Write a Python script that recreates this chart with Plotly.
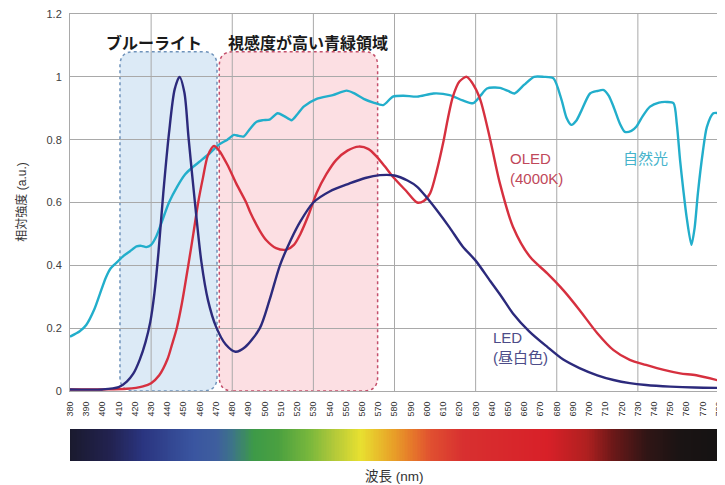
import numpy as np
import plotly.graph_objects as go

# ---------------- data ----------------
LED_NM = [380, 400, 410, 415, 419, 423, 426.5, 429.5, 432, 434.5, 437.5, 441, 444.5, 447.5, 450.5,
          453, 457, 461, 465, 470, 476, 482, 488, 497, 503, 509.4, 516, 522, 530, 540, 552,
          562, 571, 580, 588, 594, 600, 606, 614, 622, 630, 639, 646, 653, 663, 674, 684, 694,
          705, 715, 725, 735, 750, 765, 780]
LED_VAL = [0.005, 0.005, 0.012, 0.03, 0.055, 0.10, 0.155, 0.22, 0.31, 0.44, 0.63, 0.82, 0.96, 1.0,
           0.95, 0.81, 0.60, 0.41, 0.29, 0.205, 0.148, 0.125, 0.14, 0.20, 0.29, 0.40, 0.48, 0.54,
           0.60, 0.635, 0.66, 0.678, 0.687, 0.686, 0.67, 0.65, 0.615, 0.576, 0.52, 0.46, 0.415,
           0.35, 0.30, 0.247, 0.19, 0.141, 0.10, 0.073, 0.05, 0.035, 0.025, 0.019, 0.014, 0.011,
           0.01]

OLED_NM = [380, 400, 415, 425, 430, 435, 440, 443, 445.8, 449, 452.9, 456, 459, 462, 465, 468.8,
           472, 477, 482.5, 488.6, 491, 497, 501, 507, 513.5, 518, 522, 527, 532, 538, 544, 551,
           558, 564, 569, 574, 579, 587.5, 594, 598, 602, 606, 610, 613, 616, 620, 624.5, 628,
           632.7, 639, 645, 653, 663.5, 674, 684, 694, 705, 715, 725, 735, 746, 756, 766, 780]
OLED_VAL = [0.005, 0.005, 0.007, 0.015, 0.025, 0.05, 0.10, 0.15, 0.20, 0.28, 0.40, 0.50, 0.60,
            0.68, 0.75, 0.78, 0.765, 0.72, 0.66, 0.60, 0.57, 0.51, 0.48, 0.455, 0.45, 0.465, 0.50,
            0.56, 0.63, 0.69, 0.735, 0.765, 0.778, 0.77, 0.746, 0.715, 0.682, 0.635, 0.60, 0.605,
            0.63, 0.70, 0.79, 0.87, 0.937, 0.985, 1.0, 0.98, 0.93, 0.80, 0.66, 0.523, 0.427, 0.375,
            0.321, 0.258, 0.184, 0.13, 0.099, 0.083, 0.067, 0.056, 0.05, 0.033]

SUN_NM = [380, 386, 390, 395, 398.5, 402, 405, 409, 413, 417, 421, 424, 427, 430, 433, 436, 441,
          446, 451, 456, 461, 466, 472, 477, 481, 484, 487, 491, 495, 499, 503, 508, 512, 516.6,
          520, 524, 532, 542, 550.5, 555, 561, 567, 573, 579, 585.5, 594, 604, 614, 622, 628.6,
          633, 637, 645, 650, 654, 660, 666, 672, 678, 683, 686, 689, 692, 695, 700.5, 705, 709,
          712, 715, 719, 722, 726, 729, 733, 737.5, 743, 748, 752, 754, 756, 758, 760, 763, 765,
          767, 770, 772.5, 776.5, 780]
SUN_VAL = [0.173, 0.19, 0.21, 0.26, 0.31, 0.36, 0.39, 0.41, 0.43, 0.445, 0.46, 0.462, 0.458, 0.465,
           0.49, 0.53, 0.60, 0.65, 0.69, 0.714, 0.735, 0.756, 0.785, 0.80, 0.815, 0.812, 0.81,
           0.835, 0.857, 0.862, 0.864, 0.884, 0.875, 0.862, 0.88, 0.905, 0.93, 0.942, 0.956,
           0.948, 0.93, 0.918, 0.91, 0.937, 0.94, 0.937, 0.947, 0.942, 0.925, 0.916, 0.94, 0.963,
           0.965, 0.955, 0.947, 0.975, 1.0, 1.0, 0.995, 0.926, 0.87, 0.847, 0.86, 0.89, 0.947,
           0.955, 0.958, 0.94, 0.905, 0.85, 0.825, 0.828, 0.841, 0.875, 0.905, 0.918, 0.92, 0.916,
           0.85, 0.735, 0.64, 0.555, 0.465, 0.52, 0.63, 0.76, 0.84, 0.884, 0.884]

X_TICKS = list(range(380, 781, 10))
GRID_NM = [430, 480, 530, 580, 630, 680, 730]
Y_TICKS = [0, 0.2, 0.4, 0.6, 0.8, 1.0, 1.2]
Y_TICK_TEXT = ["0", "0.2", "0.4", "0.6", "0.8", "1", "1.2"]

SPECTRUM_NM = [380, 405, 425, 456, 470, 480, 493, 508, 528, 542, 559, 579, 590, 602, 622,
               674, 698, 715, 735, 756, 780]
SPECTRUM_COLORS = ["#1a1a2e", "#222250", "#2a3580", "#3a55a0", "#3e5e9e", "#3d7488", "#3d9a48",
                   "#4aa040", "#7ab83c", "#b0c83a", "#e8e030", "#e8a028", "#e67a2a", "#e05030",
                   "#d83030", "#d82028", "#b02020", "#6a1818", "#301515", "#1a1414", "#151212"]

BLUE_REGION = (410.8, 470.6)
GREEN_REGION = (472.0, 569.6)
REGION_TOP = 1.08

FONT_JP = "Noto Sans CJK JP"
FONT_MIX = "Liberation Sans, Noto Sans CJK JP"


def rounded_rect(x0, x1, y0, y1, rx, ry):
    return (f"M {x0+rx},{y0} L {x1-rx},{y0} Q {x1},{y0} {x1},{y0+ry} "
            f"L {x1},{y1-ry} Q {x1},{y1} {x1-rx},{y1} L {x0+rx},{y1} "
            f"Q {x0},{y1} {x0},{y1-ry} L {x0},{y0+ry} Q {x0},{y0} {x0+rx},{y0} Z")


fig = go.Figure()

line_kw = dict(mode="lines", line_shape="spline", showlegend=False, hoverinfo="skip")
fig.add_trace(go.Scatter(x=SUN_NM, y=SUN_VAL, line=dict(color="#22aecb", width=2.4, smoothing=0.7), **line_kw))
fig.add_trace(go.Scatter(x=OLED_NM, y=OLED_VAL, line=dict(color="#d6303f", width=2.4, smoothing=0.8), **line_kw))
fig.add_trace(go.Scatter(x=LED_NM, y=LED_VAL, line=dict(color="#2c2a7c", width=2.4, smoothing=0.8), **line_kw))

# spectrum bar
bar_x = np.arange(380, 781, 1)
scale = [[(nm - 380) / 400, c] for nm, c in zip(SPECTRUM_NM, SPECTRUM_COLORS)]
fig.add_trace(go.Heatmap(x=bar_x, y=[0], z=[bar_x], colorscale=scale, zmin=380, zmax=780,
                         showscale=False, hoverinfo="skip", xaxis="x2", yaxis="y2"))

shapes = []
shapes.append(dict(type="path", xref="x", yref="y", layer="below",
                   path=rounded_rect(BLUE_REGION[0], BLUE_REGION[1], 0, REGION_TOP, 8.5, 0.045),
                   fillcolor="#dceaf6", line=dict(color="#6f93bb", width=1.5, dash="dot")))
shapes.append(dict(type="path", xref="x", yref="y", layer="below",
                   path=rounded_rect(GREEN_REGION[0], GREEN_REGION[1], 0, REGION_TOP, 8.5, 0.045),
                   fillcolor="#fcdfe3", line=dict(color="#c4506c", width=1.5, dash="dot")))
for g in GRID_NM:
    shapes.append(dict(type="line", xref="x", yref="y", x0=g, x1=g, y0=0, y1=1.2,
                       layer="below", line=dict(color="#a9a9a9", width=1)))

annotations = [
    dict(text="<b>ブルーライト</b>", x=431.8, y=1.112, xref="x", yref="y", showarrow=False,
         font=dict(family=FONT_JP, size=16, color="#1a1a1a")),
    dict(text="<b>視感度が高い青緑領域</b>", x=526.7, y=1.112, xref="x", yref="y", showarrow=False,
         font=dict(family=FONT_JP, size=16, color="#1a1a1a")),
    dict(text="OLED<br>(4000K)", x=650, y=0.708, xref="x", yref="y", showarrow=False,
         xanchor="left", align="left", font=dict(family=FONT_MIX, size=15, color="#c0485a")),
    dict(text="自然光", x=734.4, y=0.742, xref="x", yref="y", showarrow=False,
         font=dict(family=FONT_JP, size=15, color="#45b3cb")),
    dict(text="LED<br>(昼白色)", x=639.3, y=0.137, xref="x", yref="y", showarrow=False,
         xanchor="left", align="left", font=dict(family=FONT_MIX, size=15, color="#4c4c88")),
    dict(text="波長 (nm)", x=0.5, y=-0.034, xref="paper", yref="paper", showarrow=False,
         yanchor="middle", font=dict(family=FONT_MIX, size=13.5, color="#333333")),
    dict(text="相対強度 (a.u.)", x=-0.088, y=0.58, xref="paper", yref="paper", showarrow=False,
         textangle=-90, font=dict(family=FONT_MIX, size=12, color="#333333")),
]

# the page body adds an 8px margin, so the figure is 8px smaller than the window
fig.update_layout(
    width=717, height=477,
    margin=dict(l=62, r=6, t=6, b=24),
    paper_bgcolor="white", plot_bgcolor="white",
    showlegend=False,
    shapes=shapes, annotations=annotations,
    xaxis=dict(range=[380, 780], tickvals=X_TICKS, ticktext=[str(t) for t in X_TICKS],
               tickangle=-90, tickfont=dict(family="Liberation Sans", size=9, color="#333333"),
               ticks="outside", ticklen=6, tickcolor="rgba(0,0,0,0)", automargin=False,
               ticklabeloverflow="allow",
               showgrid=False, zeroline=False, showline=True, linecolor="#a9a9a9", linewidth=1,
               mirror=True, anchor="y", fixedrange=True),
    yaxis=dict(range=[0, 1.2], domain=[0.1566, 1], tickvals=Y_TICKS, ticktext=Y_TICK_TEXT,
               tickfont=dict(family="Liberation Sans", size=11, color="#404040"),
               ticks="outside", ticklen=5, tickcolor="rgba(0,0,0,0)", automargin=False,
               ticklabeloverflow="allow",
               showgrid=True, gridcolor="#a9a9a9", gridwidth=1, zeroline=False,
               showline=True, linecolor="#a9a9a9", linewidth=1, mirror=True, anchor="x"),
    xaxis2=dict(range=[380, 780], anchor="y2", visible=False, automargin=False),
    yaxis2=dict(range=[-0.5, 0.5], domain=[0, 0.0716], anchor="x2", visible=False, automargin=False),
)

fig.write_html("out.html")
